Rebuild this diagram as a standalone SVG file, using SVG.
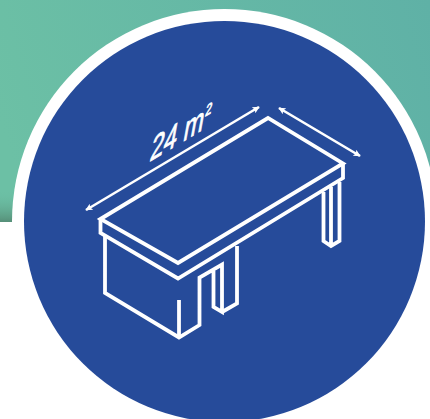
<svg xmlns="http://www.w3.org/2000/svg" width="430" height="419" viewBox="0 0 430 419">
<defs>
<linearGradient id="bg" gradientUnits="userSpaceOnUse" x1="0" y1="120" x2="430" y2="0"><stop offset="0" stop-color="#6cc0a5"/><stop offset="1" stop-color="#5fb1a6"/></linearGradient>
<linearGradient id="shade" x1="0" y1="0" x2="0" y2="1"><stop offset="0" stop-color="#6cc0a5" stop-opacity="0"/><stop offset="1" stop-color="#568f78"/></linearGradient>
<marker id="ah" viewBox="0 0 10 10" refX="9" refY="5" markerWidth="8" markerHeight="7" markerUnits="userSpaceOnUse" orient="auto-start-reverse"><path d="M0 0L10 5L0 10L2 5Z" fill="#fff"/></marker>
</defs>
<style>
.l{fill:none;stroke:#fff;stroke-width:3.8;stroke-linejoin:miter;stroke-linecap:butt}
.d{fill:none;stroke:#fff;stroke-width:2.6;marker-start:url(#ah);marker-end:url(#ah)}
text{font-family:"Liberation Sans",Arial,sans-serif;fill:#fff;stroke:#fff;stroke-width:.8}
</style>
<rect width="430" height="419" fill="#fff"/>
<rect width="430" height="222" fill="url(#bg)"/>
<rect y="190" width="40" height="32" fill="url(#shade)"/>
<circle cx="224.500" cy="221.500" r="212.500" fill="#fff"/>
<circle cx="224.500" cy="221.500" r="200.500" fill="#264b9a"/>
<g id="table">
<path class="l" d="M100.500 219L268 118L343 163.500L178 263Z"/>
<path class="l" d="M100.500 219V233L178 278.500L343 178V163.500"/>
<path class="l" d="M105 236V293L179 337.500L199.500 325V277.500L222 264.500V312L213.500 307V271"/>
<path class="l" d="M222 312L237 303.500V246"/>
<path class="l" d="M179 300V337.500"/>
<path class="l" d="M323.500 192V241L331 246L339.500 241V182M331 187V246"/>
</g>
<g id="dimensions">
<path class="d" d="M86 210L259 107"/>
<path class="d" d="M279 108L360 156"/>
</g>
<g id="label">
<text transform="matrix(.8 -.48 -.22 1.2 149 162)" font-size="30">24 m<tspan font-size="14" dy="-11">2</tspan></text>
</g>
</svg>
